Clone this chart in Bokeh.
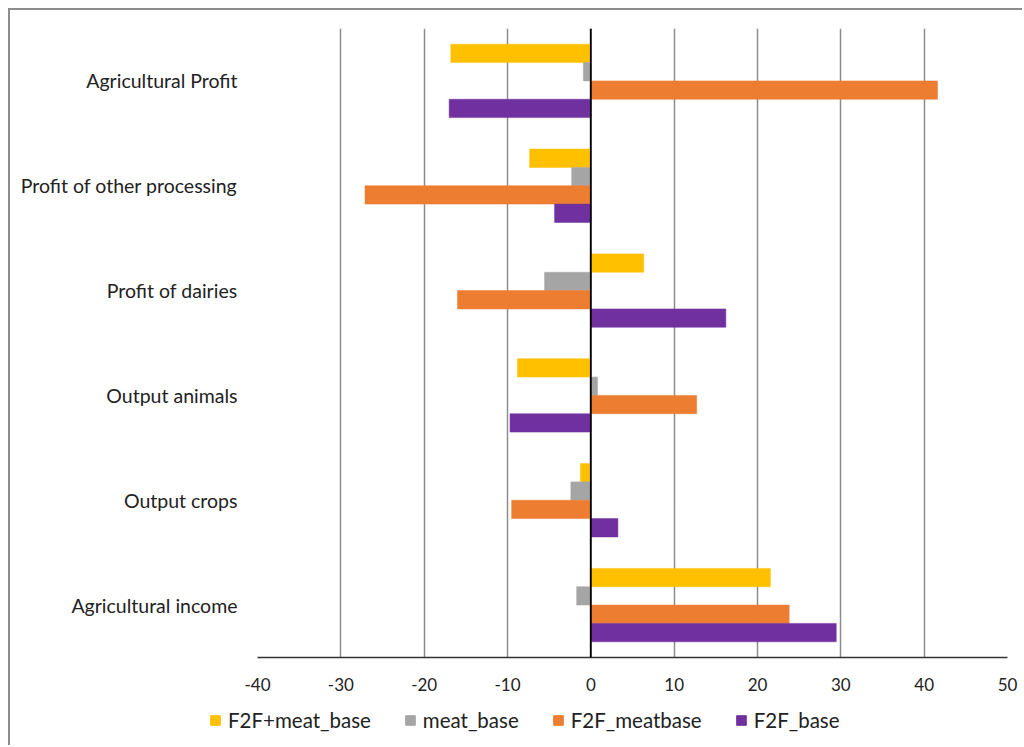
from bokeh.plotting import figure
from bokeh.layouts import column
from bokeh.models import ColumnDataSource, FactorRange, Span, Legend, LegendItem, SingleIntervalTicker, PrintfTickFormatter
from bokeh.transform import dodge
from bokeh.embed import file_html
from bokeh.resources import INLINE

categories = ["Agricultural Profit", "Profit of other processing", "Profit of dairies",
              "Output animals", "Output crops", "Agricultural income"]
f2f_meat_base = [-16.8, -7.35, 6.35, -8.8, -1.25, 21.55]
meat_base = [-0.9, -2.3, -5.55, 0.8, -2.4, -1.7]
f2f_meatbase = [41.6, -27.1, -16.0, 12.7, -9.5, 23.8]
f2f_base = [-17.0, -4.35, 16.2, -9.7, 3.25, 29.45]

series = [("F2F+meat_base", f2f_meat_base, "#FFC000"),
          ("meat_base", meat_base, "#A5A5A5"),
          ("F2F_meatbase", f2f_meatbase, "#ED7D31"),
          ("F2F_base", f2f_base, "#7030A0")]

FONT = "Lato"

src = ColumnDataSource(dict(cat=categories,
                            s0=f2f_meat_base, s1=meat_base, s2=f2f_meatbase, s3=f2f_base))

p = figure(y_range=FactorRange(*list(reversed(categories)), range_padding=0),
           x_range=(-40, 50), width=1012, height=690,
           output_backend="svg", toolbar_location=None,
           min_border_left=247, min_border_top=18, min_border_right=15, min_border_bottom=43)
p.outline_line_color = None
p.background_fill_color = "white"

h = 0.175
offsets = [1.5 * h, 0.5 * h, -0.5 * h, -1.5 * h]
for i, (name, vals, col) in enumerate(series):
    p.hbar(y=dodge("cat", offsets[i], range=p.y_range), left=0, right="s%d" % i,
           height=h, source=src, fill_color=col, line_color=col, line_width=0.5)

p.add_layout(Span(location=0, dimension="height", line_color="black", line_width=1.8))

p.xaxis.ticker = SingleIntervalTicker(interval=10)
p.xaxis.formatter = PrintfTickFormatter(format="%d")
p.xgrid.ticker = SingleIntervalTicker(interval=10)
p.xgrid.grid_line_color = "#8c8c8c"
p.xgrid.grid_line_width = 1.5
p.ygrid.grid_line_color = None

p.xaxis.axis_line_color = "#333333"
p.xaxis.axis_line_width = 1.5
p.xaxis.major_tick_line_color = None
p.xaxis.minor_tick_line_color = None
p.xaxis.major_label_standoff = 14
p.xaxis.major_label_text_font = FONT
p.xaxis.major_label_text_font_size = "17px"
p.xaxis.major_label_text_color = "#222222"

p.yaxis.axis_line_color = None
p.yaxis.major_tick_line_color = None
p.yaxis.minor_tick_line_color = None
p.yaxis.major_label_standoff = 14
p.yaxis.major_label_text_font = FONT
p.yaxis.major_label_text_font_size = "19.5px"
p.yaxis.major_label_text_color = "#222222"

# legend strip below the chart (its bar renderers are hidden; only the legend shows)
lg = figure(width=1012, height=45, x_axis_type=None, y_axis_type=None,
            x_range=p.x_range, y_range=p.y_range,
            output_backend="svg", toolbar_location=None,
            min_border_left=0, min_border_right=0, min_border_top=0, min_border_bottom=0)
lg.frame_align = False
lg.outline_line_color = None
lg.grid.grid_line_color = None
items = []
for i, (name, vals, col) in enumerate(series):
    r = lg.hbar(y="cat", left=0, right="s%d" % i, height=h, source=src,
                fill_color=col, line_color=col, visible=False)
    items.append(LegendItem(label=name, renderers=[r]))
legend = Legend(items=items, orientation="horizontal", location=(199, 13),
                label_text_font=FONT, label_text_font_size="20.5px", label_text_color="#222222",
                glyph_width=12, glyph_height=12, spacing=33, label_standoff=7,
                border_line_color=None, background_fill_alpha=0, margin=0, padding=4,
                inactive_fill_alpha=0)
lg.add_layout(legend, "center")

layout = column(p, lg, spacing=0)
layout.styles = {"border-left": "2px solid #8c8c8c", "border-top": "2px solid #8c8c8c",
                 "margin-left": "8px", "margin-top": "8px"}

open("out.html", "w").write(file_html(layout, INLINE))
